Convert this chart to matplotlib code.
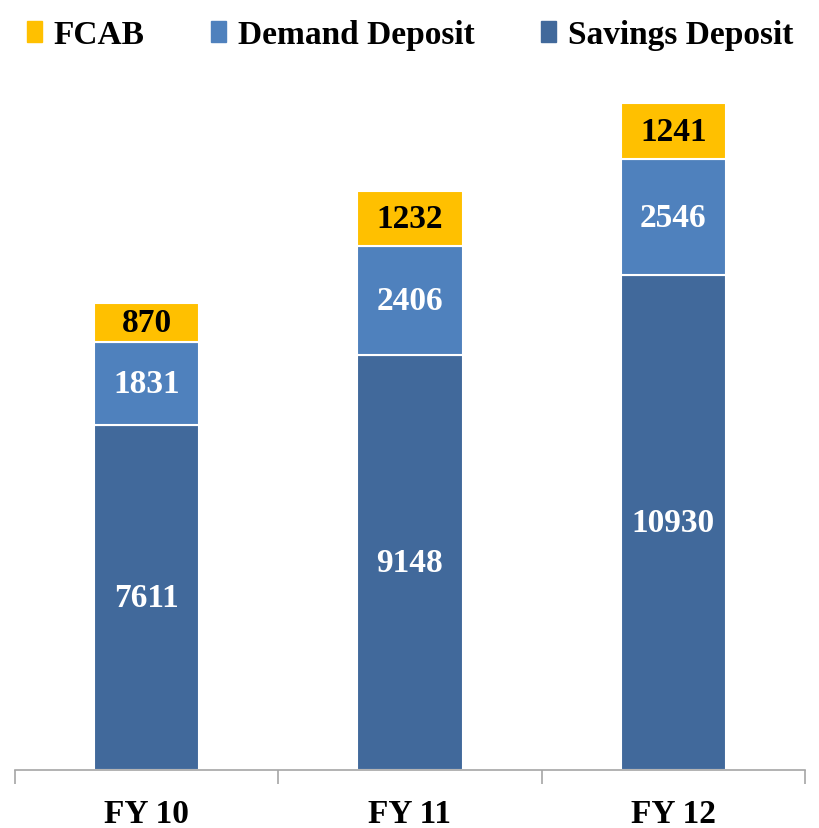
import matplotlib
matplotlib.use("Agg")
import matplotlib.pyplot as plt
from matplotlib.patches import Patch

categories = ["FY 10", "FY 11", "FY 12"]
savings = [7611, 9148, 10930]
demand = [1831, 2406, 2546]
fcab = [870, 1232, 1241]

c_sav = "#41699B"
c_dem = "#4F81BD"
c_fcab = "#FFC000"

plt.rcParams['font.family'] = ['Liberation Serif', 'DejaVu Serif']

fig = plt.figure(figsize=(8.2, 8.29), dpi=100)
ax = fig.add_axes([15/820, (829-771)/829, 790/820, 725/829])

x = range(len(categories))
w = 0.4
ax.bar(x, savings, w, color=c_sav, edgecolor="white", linewidth=1.5)
ax.bar(x, demand, w, bottom=savings, color=c_dem, edgecolor="white", linewidth=1.5)
bot3 = [s + d for s, d in zip(savings, demand)]
ax.bar(x, fcab, w, bottom=bot3, color=c_fcab, edgecolor="white", linewidth=1.5)

for i in x:
    ax.text(i, savings[i] / 2, str(savings[i]), ha="center", va="center",
            color="white", fontsize=24, fontweight="bold")
    ax.text(i, savings[i] + demand[i] / 2, str(demand[i]), ha="center", va="center",
            color="white", fontsize=24, fontweight="bold")
    ax.text(i, bot3[i] + fcab[i] / 2, str(fcab[i]), ha="center", va="center",
            color="black", fontsize=24, fontweight="bold")

ax.set_xlim(-0.5, 2.5)
ax.set_ylim(0, 16000)
for s in ["top", "right", "left"]:
    ax.spines[s].set_visible(False)
ax.spines["bottom"].set_color("#A6A6A6")
ax.spines["bottom"].set_linewidth(1.2)
ax.set_yticks([])
ax.set_xticks([-0.5, 0.5, 1.5, 2.5], minor=False)
ax.set_xticklabels([])
ax.tick_params(axis="x", which="major", length=10, color="#A6A6A6", width=1.2)
ax.set_xticks(list(x), minor=True)
ax.set_xticklabels(categories, minor=True, fontsize=24, fontweight="bold")
ax.tick_params(axis="x", which="minor", length=0, pad=20)

handles = [Patch(color=c_fcab), Patch(color=c_dem), Patch(color=c_sav)]
labels = ["FCAB", "Demand Deposit", "Savings Deposit"]
fig.legend(handles, labels, loc="upper center", bbox_to_anchor=(0.5, 1.012), ncol=3,
           frameon=False, handlelength=0.45, handleheight=0.6, handletextpad=0.35,
           columnspacing=2.0, prop={"size": 24, "weight": "bold"})

fig.savefig("out.png", dpi=100)
